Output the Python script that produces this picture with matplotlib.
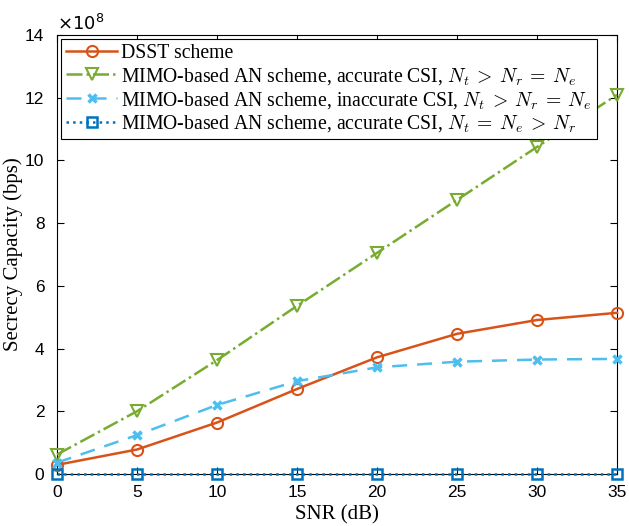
import matplotlib
matplotlib.use("Agg")
import matplotlib.pyplot as plt

plt.rcParams["mathtext.fontset"] = "cm"

snr_db = [0, 5, 10, 15, 20, 25, 30, 35]
dsst = [0.29, 0.78, 1.64, 2.71, 3.72, 4.47, 4.91, 5.14]
an_acc = [0.62, 2.0, 3.63, 5.36, 7.05, 8.74, 10.43, 12.09]
an_inacc = [0.36, 1.24, 2.2, 2.96, 3.4, 3.58, 3.65, 3.67]
an_ne = [0.0, 0.0, 0.0, 0.0, 0.0, 0.0, 0.0, 0.0]

labels = [
    "DSST scheme",
    r"MIMO-based AN scheme, accurate CSI, $N_t\:>\:N_r\:=\:N_e$",
    r"MIMO-based AN scheme, inaccurate CSI, $N_t\:>\:N_r\:=\:N_e$",
    r"MIMO-based AN scheme, accurate CSI, $N_t\:=\:N_e\:>\:N_r$",
]

scale = 1e8
serif = "Liberation Serif"
sans = "Liberation Sans"

fig = plt.figure(figsize=(6.29, 5.26), dpi=100)
ax = fig.add_axes([0.0906, 0.0989, 0.8904, 0.8346])

ax.plot(snr_db, [v * scale for v in dsst], "-o", color="#D95319", lw=1.8,
        ms=8, mfc="none", mew=1.5, label=labels[0], clip_on=False, zorder=3)
ax.plot(snr_db, [v * scale for v in an_acc], "-.v", color="#77AC30", lw=1.8,
        ms=9, mfc="none", mew=1.5, label=labels[1], clip_on=False, zorder=3)
ax.plot(snr_db, [v * scale for v in an_inacc], "--x", color="#4DBEEE", lw=1.8,
        ms=6, mew=2.5, label=labels[2], dashes=(6, 4), clip_on=False, zorder=3)
ax.plot(snr_db, [v * scale for v in an_ne], ":s", color="#0072BD", lw=1.8,
        ms=7, mfc="none", mew=1.8, label=labels[3], clip_on=False, zorder=3)

ax.set_xlim(0, 35)
ax.set_ylim(0, 14e8)
ax.set_xticks(snr_db)
ax.set_yticks([i * 2e8 for i in range(8)])
ax.set_yticklabels([str(i * 2) for i in range(8)])
ax.tick_params(direction="in", top=True, right=True, labelsize=12.5, length=5)
ax.tick_params(axis="x", pad=8)
ax.tick_params(axis="y", pad=9)
for lab in ax.get_xticklabels() + ax.get_yticklabels():
    lab.set_family(sans)
ax.text(0, 1.003, r"$\times10^{8}$", transform=ax.transAxes, fontsize=13,
        math_fontfamily="dejavusans", va="bottom", ha="left")

ax.set_xlabel("SNR (dB)", family=serif, fontsize=15)
ax.set_ylabel("Secrecy Capacity (bps)", family=serif, fontsize=15)
ax.xaxis.set_label_coords(0.5, -0.072)
ax.yaxis.set_label_coords(-0.06, 0.5)

leg = ax.legend(loc="upper left", prop={"family": serif, "size": 14.2},
                fancybox=False, edgecolor="black", framealpha=1,
                handlelength=2.6, borderaxespad=0.2, labelspacing=0.15,
                borderpad=0.25, handletextpad=0.2)
leg.get_frame().set_linewidth(0.8)
leg.set_zorder(5)

fig.savefig("out.png", dpi=100)
